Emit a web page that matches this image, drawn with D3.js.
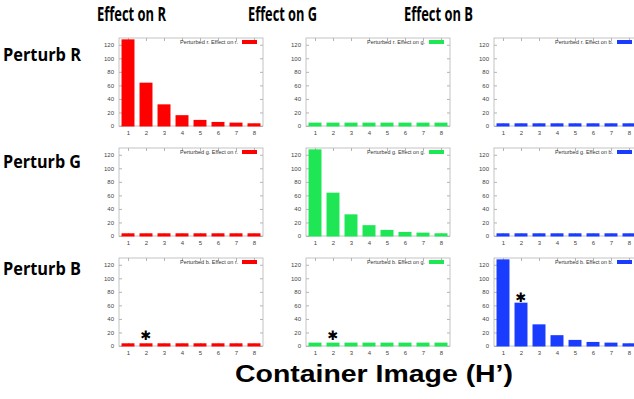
<!DOCTYPE html>
<html>
<head>
<meta charset="utf-8">
<script src="https://cdn.jsdelivr.net/npm/d3@7"></script>
<style>
  html, body { margin: 0; padding: 0; background: #fff; }
  svg { display: block; }
</style>
</head>
<body>
<div id="chart"></div>
<script>
// bins of the histogram
const bins = [1, 2, 3, 4, 5, 6, 7, 8];
const yTicks = [0, 20, 40, 60, 80, 100, 120];

const effectTitles = ["Effect on R", "Effect on G", "Effect on B"];
const perturbTitles = ["Perturb R", "Perturb G", "Perturb B"];
const channels = ["r", "g", "b"];

// values, one array per (perturbed, effect) pair
const rOnR = [128, 64, 32, 16, 9, 6, 5, 4];
const rOnG = [5, 5, 5, 5, 5, 5, 5, 5];
const rOnB = [4, 4, 4, 4, 4, 4, 4, 4];
const gOnR = [4, 4, 4, 4, 4, 4, 4, 4];
const gOnG = [128, 64, 32, 16, 9, 6, 5, 4];
const gOnB = [4, 4, 4, 4, 4, 4, 4, 4];
const bOnR = [4, 4, 4, 4, 4, 4, 4, 4];
const bOnG = [5, 5, 5, 5, 5, 5, 5, 5];
const bOnB = [128, 64, 32, 16, 9, 6, 5, 4];

const grid = [
  [rOnR, rOnG, rOnB],
  [gOnR, gOnG, gOnB],
  [bOnR, bOnG, bOnB],
];

// significance marks: row, col, bin, height (data units)
const marks = [
  { row: 2, col: 0, bin: 2, value: 15 },
  { row: 2, col: 1, bin: 2, value: 16 },
  { row: 2, col: 2, bin: 2, value: 71 },
];

const colors = ["#ff0000", "#1ee655", "#1a3cff"];

const width = 634;
const height = 399;
const panelLeft = [119, 306, 494];
const panelTop = [38, 148, 258];
const panelW = 144;
const panelH = 88;

const svg = d3
  .select("#chart")
  .append("svg")
  .attr("width", width)
  .attr("height", height);

const x = d3.scaleLinear().domain([0.5, 8.5]).range([0, panelW]);
const y = d3.scaleLinear().domain([0, 130]).range([panelH, 0]);
const barW = (x(1) - x(0)) * 0.72;

grid.forEach((row, ri) => {
  row.forEach((values, ci) => {
    const g = svg
      .append("g")
      .attr("transform", `translate(${panelLeft[ci]},${panelTop[ri]})`);

    // frame
    g.append("rect")
      .attr("width", panelW)
      .attr("height", panelH)
      .attr("fill", "none")
      .attr("stroke", "#b4b4b4")
      .attr("stroke-width", 0.8);

    // y ticks on both sides
    const yAxis = d3.axisLeft(y).tickValues(yTicks).tickSize(-3).tickPadding(5);
    const ya = g.append("g").call(yAxis);
    ya.select(".domain").remove();
    ya.selectAll("line").attr("stroke", "#b4b4b4");
    ya.selectAll("text")
      .attr("font-family", "Liberation Sans, Arial, sans-serif")
      .attr("font-size", 6)
      .attr("fill", "#444");
    const yr = g.append("g").attr("transform", `translate(${panelW},0)`)
      .call(d3.axisRight(y).tickValues(yTicks).tickSize(-3).tickFormat(""));
    yr.select(".domain").remove();
    yr.selectAll("line").attr("stroke", "#b4b4b4");

    // x ticks bottom and top
    const xa = g.append("g").attr("transform", `translate(0,${panelH})`)
      .call(d3.axisBottom(x).tickValues(bins).tickSize(-3).tickPadding(5).tickFormat(d3.format("d")));
    xa.select(".domain").remove();
    xa.selectAll("line").attr("stroke", "#b4b4b4");
    xa.selectAll("text")
      .attr("font-family", "Liberation Sans, Arial, sans-serif")
      .attr("font-size", 6)
      .attr("fill", "#444");
    const xt = g.append("g")
      .call(d3.axisTop(x).tickValues(bins).tickSize(-3).tickFormat(""));
    xt.select(".domain").remove();
    xt.selectAll("line").attr("stroke", "#b4b4b4");

    // bars
    g.append("g")
      .selectAll("rect")
      .data(values)
      .join("rect")
      .attr("x", (d, i) => x(bins[i]) - barW / 2)
      .attr("y", (d) => y(d))
      .attr("width", barW)
      .attr("height", (d) => y(0) - y(d) + 0.5)
      .attr("fill", colors[ci]);

    // legend
    const lg = g.append("g").attr("transform", `translate(${panelW - 21},4)`);
    lg.append("rect")
      .attr("x", 0)
      .attr("y", -2)
      .attr("width", 15)
      .attr("height", 4)
      .attr("fill", colors[ci]);
    lg.append("text")
      .attr("x", -62)
      .attr("y", 2)
      .attr("font-family", "Liberation Sans, Arial, sans-serif")
      .attr("font-size", 6)
      .attr("textLength", 58)
      .attr("lengthAdjust", "spacingAndGlyphs")
      .attr("fill", "#333")
      .text(`Perturbed ${channels[ri]}.  Effect on ${channels[ci]}.`);
  });
});

// asterisks
marks.forEach((m) => {
  svg.append("text")
    .attr("x", panelLeft[m.col] + x(m.bin))
    .attr("y", panelTop[m.row] + y(m.value) + 4.5)
    .attr("text-anchor", "middle")
    .attr("font-family", "DejaVu Sans, sans-serif")
    .attr("font-size", 13)
    .attr("fill", "#000")
    .text("\u2731");
});

// column titles
const titleX = [97, 248, 404];
effectTitles.forEach((t, i) => {
  svg.append("text")
    .attr("x", titleX[i])
    .attr("y", 21)
    .attr("font-family", "Open Sans, sans-serif")
    .attr("font-weight", "bold")
    .attr("font-size", 19)
    .attr("textLength", 69)
    .attr("lengthAdjust", "spacingAndGlyphs")
    .attr("fill", "#000")
    .text(t);
});

// row titles
const rowY = [61, 168, 275];
perturbTitles.forEach((t, i) => {
  svg.append("text")
    .attr("x", 3)
    .attr("y", rowY[i])
    .attr("font-family", "Open Sans, sans-serif")
    .attr("font-weight", "bold")
    .attr("font-size", 18)
    .attr("textLength", 78)
    .attr("lengthAdjust", "spacingAndGlyphs")
    .attr("fill", "#000")
    .text(t);
});

// bottom axis title
svg.append("text")
  .attr("x", 235)
  .attr("y", 382)
  .attr("font-family", "Liberation Sans, Arial, sans-serif")
  .attr("font-weight", "bold")
  .attr("font-size", 24)
  .attr("textLength", 278)
  .attr("lengthAdjust", "spacingAndGlyphs")
  .attr("fill", "#000")
  .text("Container Image (H\u2019)");
</script>
</body>
</html>
